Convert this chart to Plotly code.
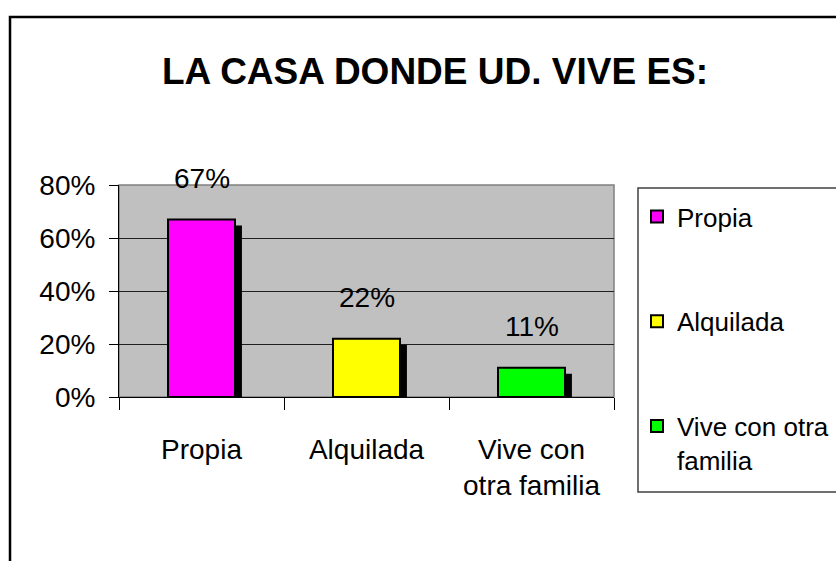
import plotly.graph_objects as go

categories = ["Propia", "Alquilada", "Vive con otra familia"]
tick_labels = ["Propia", "Alquilada", "Vive con<br>otra familia"]
legend_names = ["Propia", "Alquilada", "Vive con otra<br>familia"]
values = [0.67, 0.22, 0.11]
value_labels = ["67%", "22%", "11%"]
colors = ["#FF00FF", "#FFFF00", "#00FF00"]

W, H = 836, 561
L, R, T, B = 119, 614, 185, 397
FONT = "Liberation Sans, Arial, sans-serif"
FS = 28

def px(xp):
    return (xp - L) / (R - L)

def py(yp):
    return (B - yp) / (B - T)

bar_w = 0.406
sh_dx = 0.042
sh_dy = 0.0226

fig = go.Figure()
for i, c in enumerate(categories):
    fig.add_trace(go.Bar(
        x=[c], y=[values[i] - sh_dy], width=bar_w, offset=-bar_w / 2 + sh_dx,
        marker=dict(color="black", line=dict(width=0)),
        showlegend=False, hoverinfo="skip"))
for i, c in enumerate(categories):
    fig.add_trace(go.Bar(
        x=[c], y=[values[i]], width=bar_w, offset=-bar_w / 2,
        name=legend_names[i], legendgroup=str(i),
        marker=dict(color=colors[i], line=dict(color="black", width=2))))

for i, c in enumerate(categories):
    fig.add_annotation(x=c, y=values[i], text=value_labels[i], showarrow=False,
                       yshift=41, yanchor="middle",
                       font=dict(family=FONT, size=FS, color="black"))

shapes = [
    dict(type="rect", xref="paper", yref="paper", x0=0, x1=1, y0=0, y1=1,
         line=dict(color="#808080", width=1.5), layer="below"),
    dict(type="rect", xref="paper", yref="paper", x0=px(638), x1=px(900),
         y0=py(492), y1=py(188), line=dict(color="#404040", width=1.5)),
    dict(type="rect", xref="paper", yref="paper", x0=px(10), x1=px(1000),
         y0=py(700), y1=py(17), line=dict(color="black", width=2.5)),
]

fig.update_layout(
    width=W, height=H,
    margin=dict(l=L, r=W - R, t=T, b=H - B, autoexpand=False),
    paper_bgcolor="white", plot_bgcolor="#C0C0C0",
    barmode="overlay",
    font=dict(family=FONT, size=FS, color="black"),
    title=dict(text="<b>LA CASA DONDE UD. VIVE ES:</b>", x=435 / W, xanchor="center",
               y=1 - 71 / H, yanchor="middle", yref="container",
               font=dict(family=FONT, size=37, color="black")),
    xaxis=dict(type="category", categoryorder="array", categoryarray=categories,
               tickvals=categories, ticktext=tick_labels, tickangle=0,
               tickson="boundaries", ticks="outside", ticklen=12, tickcolor="black",
               tickwidth=1, showline=True, linecolor="black", linewidth=1,
               showgrid=False, ticklabelstandoff=27, automargin=False,
               range=[-0.5, 2.5]),
    yaxis=dict(range=[0, 0.8], dtick=0.2, tickformat=".0%", ticks="outside",
               ticklen=9, tickcolor="black", showline=True, linecolor="black",
               linewidth=1, showgrid=True, gridcolor="#202020", gridwidth=1,
               zeroline=False, ticklabelstandoff=8, automargin=False),
    legend=dict(x=px(637), y=py(193), xanchor="left", yanchor="top",
                bgcolor="rgba(0,0,0,0)", borderwidth=0, tracegroupgap=68,
                valign="top", maxheight=500,
                font=dict(family=FONT, size=26, color="black")),
    shapes=shapes,
    showlegend=True,
)

fig.write_html("out.html", config={"displayModeBar": False},
               post_script="document.body.style.margin='0';")
